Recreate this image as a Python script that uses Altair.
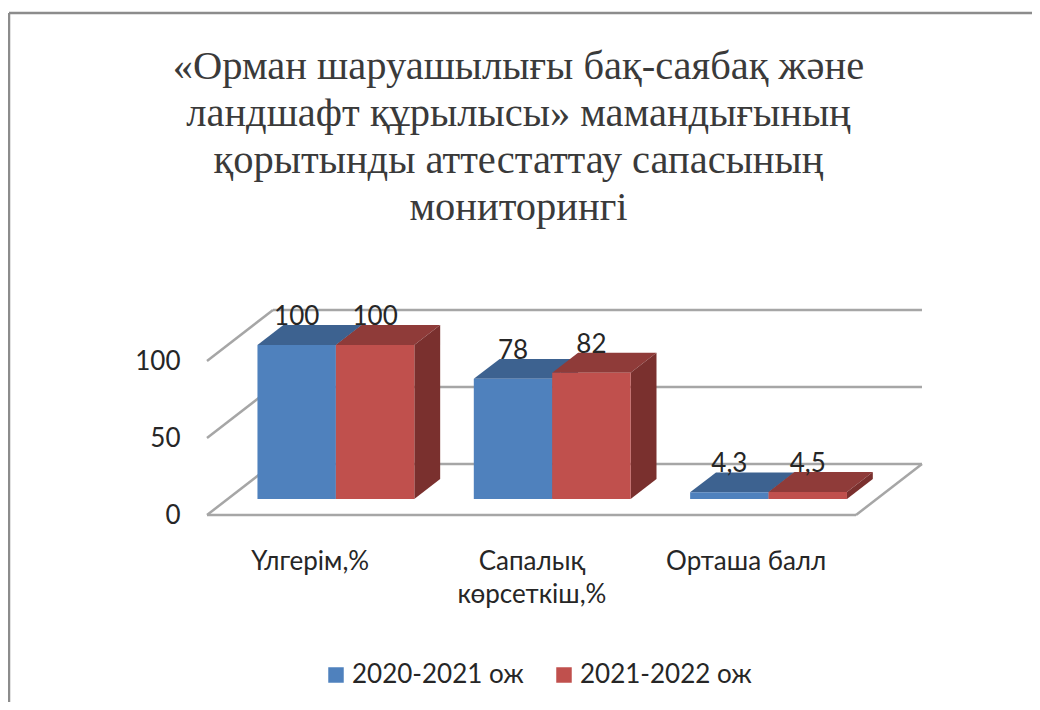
import altair as alt
import pandas as pd

categories = ["Үлгерім,%", "Сапалық\nкөрсеткіш,%", "Орташа балл"]
series = ["2020-2021 ож", "2021-2022 ож"]
values_a = [100, 78, 4.3]
values_b = [100, 82, 4.5]
labels_a = ["100", "78", "4,3"]
labels_b = ["100", "82", "4,5"]
title_lines = ["«Орман шаруашылығы бақ-саябақ және",
               "ландшафт құрылысы» мамандығының",
               "қорытынды аттестаттау сапасының",
               "мониторингі"]

FONT = "Lato"
TEXT = "#262626"
# oblique projection: one unit of depth in data units of both axes
DX, DY = 0.305, 33.1
BAR_W, GAP = 0.3625, 0.1375
D_FRONT, D_BACK = 0.314, 0.706
front_colors = ["#4f81bd", "#c0504d"]
top_colors = ["#3d6290", "#8f3b39"]
side_colors = ["#355678", "#7a302e"]
LINE = "#a6a6a6"

fronts, tops, sides, texts = [], [], [], []
for s, (name, vals, labs) in enumerate(zip(series, (values_a, values_b), (labels_a, labels_b))):
    for c, (v, lab) in enumerate(zip(vals, labs)):
        x0 = c + GAP + s * BAR_W + DX * D_FRONT
        x1 = x0 + BAR_W
        y0 = DY * D_FRONT
        yt = v + y0
        ddx, ddy = DX * (D_BACK - D_FRONT), DY * (D_BACK - D_FRONT)
        fronts.append(dict(series=name, x=x0, x2=x1, y=y0, y2=yt))
        texts.append(dict(series=name, x=(x0 + x1) / 2, y=yt + ddy, label=lab))
        tops.append(dict(series=s, id=f"{s}-{c}", y=yt, xa=x0, xb=x1))
        tops.append(dict(series=s, id=f"{s}-{c}", y=yt + ddy, xa=x0 + ddx, xb=x1 + ddx))
        sides.append(dict(series=s, id=f"{s}-{c}", x=x1, ya=y0, yb=yt))
        sides.append(dict(series=s, id=f"{s}-{c}", x=x1 + ddx, ya=y0 + ddy, yb=yt + ddy))

ncat = len(categories)
walls = []
for v in (0, 50, 100):
    walls.append(dict(x=0, y=v, x2=DX, y2=v + DY))
    walls.append(dict(x=DX, y=v + DY, x2=ncat + DX, y2=v + DY))
walls.append(dict(x=0, y=0, x2=ncat, y2=0))
walls.append(dict(x=ncat, y=0, x2=ncat + DX, y2=DY))

X = alt.Scale(domain=[0, ncat])
Y = alt.Scale(domain=[0, 100])
label_expr = "split(['" + "','".join(c.replace("\n", "|") for c in categories) + "'][floor(datum.value)], '|')"

wall_layer = alt.Chart(pd.DataFrame(walls)).mark_rule(color=LINE, strokeWidth=2.5).encode(
    x=alt.X("x:Q", scale=X, axis=alt.Axis(values=[0.475, 1.5, 2.49], labelExpr=label_expr, title=None,
                                          domain=False, ticks=False, grid=False, labelPadding=33,
                                          labelFont=FONT, labelFontSize=26, labelColor=TEXT,
                                          labelLineHeight=33, labelBaseline="top", labelFlush=False)),
    x2="x2:Q",
    y=alt.Y("y:Q", scale=Y, axis=alt.Axis(values=[0, 50, 100], title=None, domain=False, ticks=False, grid=False,
                                          labelPadding=27, labelFont=FONT, labelFontSize=26, labelColor=TEXT,
                                          labelFlush=False)),
    y2="y2:Q",
)

layers = [wall_layer]
df_tops, df_sides = pd.DataFrame(tops), pd.DataFrame(sides)
for s in range(len(series)):
    layers.append(alt.Chart(df_tops[df_tops.series == s]).mark_area(orient="horizontal", color=top_colors[s]).encode(
        y=alt.Y("y:Q", scale=Y), x=alt.X("xa:Q", scale=X), x2="xb:Q", detail="id:N"))
    layers.append(alt.Chart(df_sides[df_sides.series == s]).mark_area(color=side_colors[s]).encode(
        x=alt.X("x:Q", scale=X), y=alt.Y("ya:Q", scale=Y), y2="yb:Q", detail="id:N"))

front_layer = alt.Chart(pd.DataFrame(fronts)).mark_bar().encode(
    x=alt.X("x:Q", scale=X), x2="x2:Q",
    y=alt.Y("y:Q", scale=Y), y2="y2:Q",
    color=alt.Color("series:N", scale=alt.Scale(domain=series, range=front_colors),
                    legend=alt.Legend(title=None, orient="none", legendX=116, legendY=301, columns=2,
                                      symbolType="square", symbolSize=240, symbolStrokeWidth=0,
                                      labelFont=FONT, labelFontSize=26, labelColor=TEXT,
                                      columnPadding=27, labelOffset=3, labelLimit=260)),
)
layers.append(front_layer)

text_layer = alt.Chart(pd.DataFrame(texts)).mark_text(baseline="alphabetic", font=FONT, fontSize=26, color=TEXT).encode(
    x=alt.X("x:Q", scale=X), y=alt.Y("y:Q", scale=Y), text="label:N")
layers.append(text_layer)

# frame of the picture
anchor = pd.DataFrame({"k": [0]})
layers.append(alt.Chart(anchor).mark_rule(color="#8c8c8c", strokeWidth=2.5).encode(
    x=alt.value(-198), x2=alt.value(840), y=alt.value(-348)))
layers.append(alt.Chart(anchor).mark_rule(color="#8c8c8c", strokeWidth=2.5).encode(
    x=alt.value(-198), y=alt.value(-348), y2=alt.value(360)))

chart = alt.layer(*layers).properties(
    width=649, height=154,
    title=alt.TitleParams(text=title_lines, font="Liberation Serif", fontSize=40.5, fontWeight="normal",
                          color="#3a3a3a", lineHeight=47, anchor="middle", frame="group", dx=-13, offset=0, dy=217),
    autosize=alt.AutoSizeParams(type="none"),
    padding={"left": 199, "top": 353, "right": 176, "bottom": 187},
    background="white",
).configure_view(stroke=None)

chart.save("out.html", embed_options={"renderer": "svg", "actions": False})
